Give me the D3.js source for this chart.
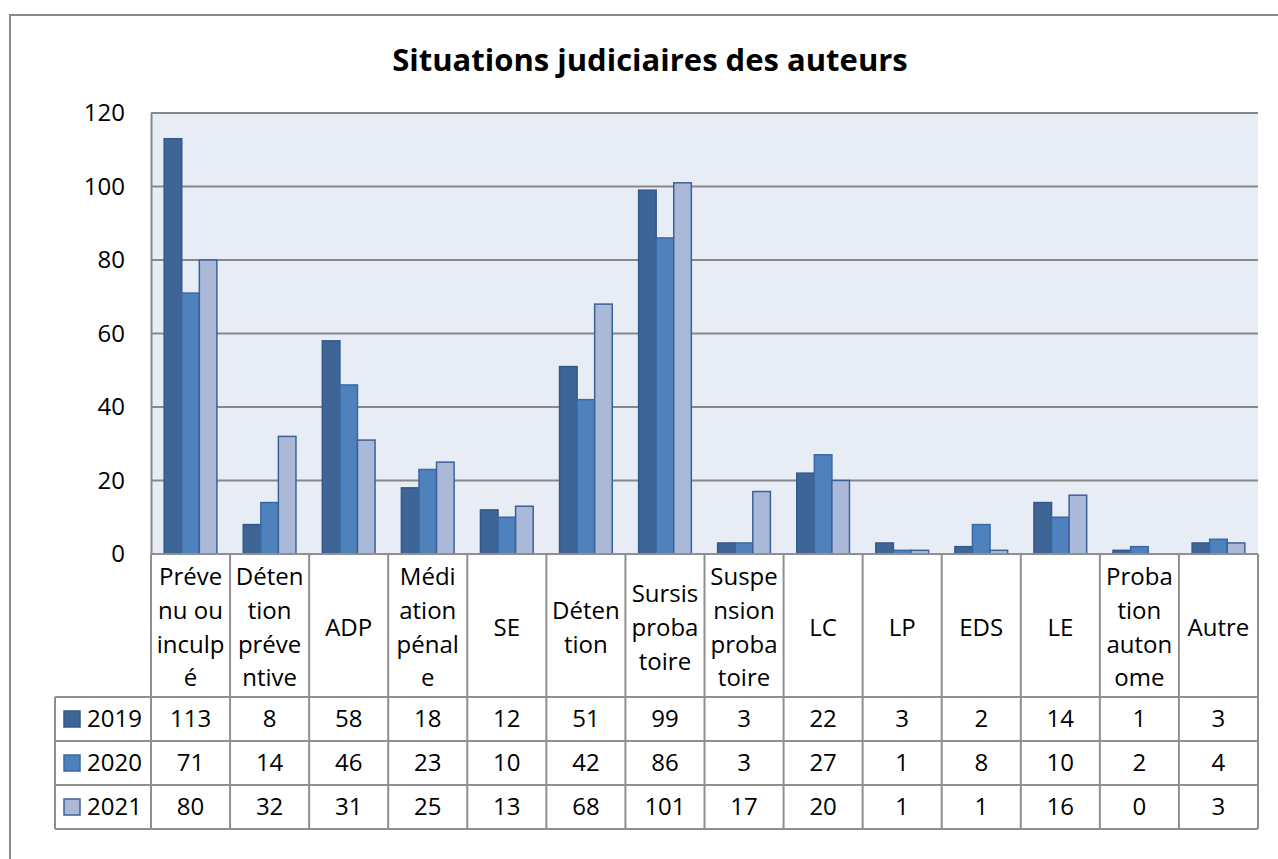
<!DOCTYPE html>
<html>
<head>
<meta charset="utf-8">
<script src="https://cdn.jsdelivr.net/npm/d3@7"></script>
<style>
  body { margin: 0; background: #fff; }
  text { font-family: "Open Sans", "Noto Sans", sans-serif; fill: #000; }
</style>
</head>
<body>
<div class="chart"></div>
<script>
// categories (as shown in the table header, wrapped like the original)
const categories = ["Prévenu ou inculpé", "Détention préventive", "ADP", "Médiation pénale", "SE",
  "Détention", "Sursis probatoire", "Suspension probatoire", "LC", "LP", "EDS", "LE",
  "Probation autonome", "Autre"];
const headerLines = [
  ["Préve", "nu ou", "inculp", "é"], ["Déten", "tion", "préve", "ntive"], ["ADP"],
  ["Médi", "ation", "pénal", "e"], ["SE"], ["Déten", "tion"], ["Sursis", "proba", "toire"],
  ["Suspe", "nsion", "proba", "toire"], ["LC"], ["LP"], ["EDS"], ["LE"],
  ["Proba", "tion", "auton", "ome"], ["Autre"]
];
const years = ["2019", "2020", "2021"];
const values2019 = [113, 8, 58, 18, 12, 51, 99, 3, 22, 3, 2, 14, 1, 3];
const values2020 = [71, 14, 46, 23, 10, 42, 86, 3, 27, 1, 8, 10, 2, 4];
const values2021 = [80, 32, 31, 25, 13, 68, 101, 17, 20, 1, 1, 16, 0, 3];
const yTicks = [0, 20, 40, 60, 80, 100, 120];

const series = [
  {year: years[0], values: values2019, fill: "#3E6596", stroke: "#33588A"},
  {year: years[1], values: values2020, fill: "#4F81BD", stroke: "#3A6AA3"},
  {year: years[2], values: values2021, fill: "#AAB9D8", stroke: "#3B6199"}
];

const width = 1278, height = 859;
const plot = {left: 151, right: 1258, top: 113, bottom: 554};
const headerBottom = 697, rowH = 44;
const fs = 24;

const svg = d3.select('.chart').append('svg')
  .attr('width', width).attr('height', height);

// outer chart frame
svg.append('rect')
  .attr('x', 10).attr('y', 15).attr('width', 1290).attr('height', 900)
  .attr('fill', 'none').attr('stroke', '#8a8a8a').attr('stroke-width', 2);

// title
svg.append('text')
  .attr('x', 650).attr('y', 71)
  .attr('text-anchor', 'middle')
  .attr('font-size', 31).attr('font-weight', 'bold')
  .text('Situations judiciaires des auteurs');

const x0 = d3.scaleBand().domain(categories).range([plot.left, plot.right]);
const x1 = d3.scaleBand().domain(years).range([0, x0.bandwidth()])
  .paddingInner(0).paddingOuter(0.75);
const y = d3.scaleLinear().domain([0, 120]).range([plot.bottom, plot.top]);

// plot background
svg.append('rect')
  .attr('x', plot.left).attr('y', plot.top)
  .attr('width', plot.right - plot.left).attr('height', plot.bottom - plot.top)
  .attr('fill', '#E8ECF5');

// gridlines
svg.selectAll('.grid')
  .data(yTicks.filter(t => t > 0))
  .enter().append('line')
  .attr('x1', plot.left).attr('x2', plot.right)
  .attr('y1', d => y(d)).attr('y2', d => y(d))
  .attr('stroke', '#878787').attr('stroke-width', 2);

// y axis
const yAxis = svg.append('g')
  .attr('transform', `translate(${plot.left},0)`)
  .call(d3.axisLeft(y).tickValues(yTicks).tickSize(0).tickPadding(26));
yAxis.select('.domain').attr('stroke', '#878787').attr('stroke-width', 2);
yAxis.selectAll('text')
  .attr('font-size', fs).attr('font-family', '"Open Sans", sans-serif').attr('fill', '#000');

// bars
series.forEach(s => {
  svg.append('g').selectAll('rect')
    .data(categories.map((c, i) => ({cat: c, v: s.values[i]})).filter(d => d.v > 0))
    .enter().append('rect')
    .attr('x', d => x0(d.cat) + x1(s.year))
    .attr('y', d => y(d.v))
    .attr('width', x1.bandwidth())
    .attr('height', d => y(0) - y(d.v))
    .attr('fill', s.fill)
    .attr('stroke', s.stroke)
    .attr('stroke-width', 1.5);
});

// data table
const lineCol = '#8f8f8f';
const tableBottom = headerBottom + rowH * series.length;
const tbl = svg.append('g');

// horizontal lines
tbl.append('line')
  .attr('x1', plot.left).attr('x2', plot.right)
  .attr('y1', plot.bottom).attr('y2', plot.bottom)
  .attr('stroke', lineCol).attr('stroke-width', 2);
d3.range(series.length + 1).forEach(k => {
  tbl.append('line')
    .attr('x1', 55).attr('x2', plot.right)
    .attr('y1', headerBottom + k * rowH).attr('y2', headerBottom + k * rowH)
    .attr('stroke', lineCol).attr('stroke-width', 2);
});
// vertical lines
categories.concat(['end']).forEach((c, i) => {
  const xx = i < categories.length ? x0(c) : plot.right;
  tbl.append('line')
    .attr('x1', xx).attr('x2', xx)
    .attr('y1', plot.bottom).attr('y2', tableBottom)
    .attr('stroke', lineCol).attr('stroke-width', 2);
});
tbl.append('line')
  .attr('x1', 55).attr('x2', 55)
  .attr('y1', headerBottom).attr('y2', tableBottom)
  .attr('stroke', lineCol).attr('stroke-width', 2);

// header labels
const lh = 33.7;
const headerMid = (plot.bottom + headerBottom) / 2 + 2;
categories.forEach((c, i) => {
  const lines = headerLines[i];
  const t = tbl.append('text')
    .attr('text-anchor', 'middle')
    .attr('font-size', fs);
  lines.forEach((ln, j) => {
    t.append('tspan')
      .attr('x', x0(c) + x0.bandwidth() / 2)
      .attr('y', headerMid + (j - (lines.length - 1) / 2) * lh)
      .attr('dy', '0.35em')
      .text(ln);
  });
});

// rows
series.forEach((s, k) => {
  const cy = headerBottom + k * rowH + rowH / 2;
  tbl.append('rect')
    .attr('x', 64).attr('y', cy - 8).attr('width', 16).attr('height', 16)
    .attr('fill', s.fill).attr('stroke', s.stroke).attr('stroke-width', 1.5);
  tbl.append('text')
    .attr('x', 87).attr('y', cy).attr('dy', '0.35em')
    .attr('font-size', fs)
    .text(s.year);
  tbl.selectAll(null)
    .data(categories)
    .enter().append('text')
    .attr('x', d => x0(d) + x0.bandwidth() / 2)
    .attr('y', cy).attr('dy', '0.35em')
    .attr('text-anchor', 'middle')
    .attr('font-size', fs)
    .text((d, i) => s.values[i]);
});
</script>
</body>
</html>
